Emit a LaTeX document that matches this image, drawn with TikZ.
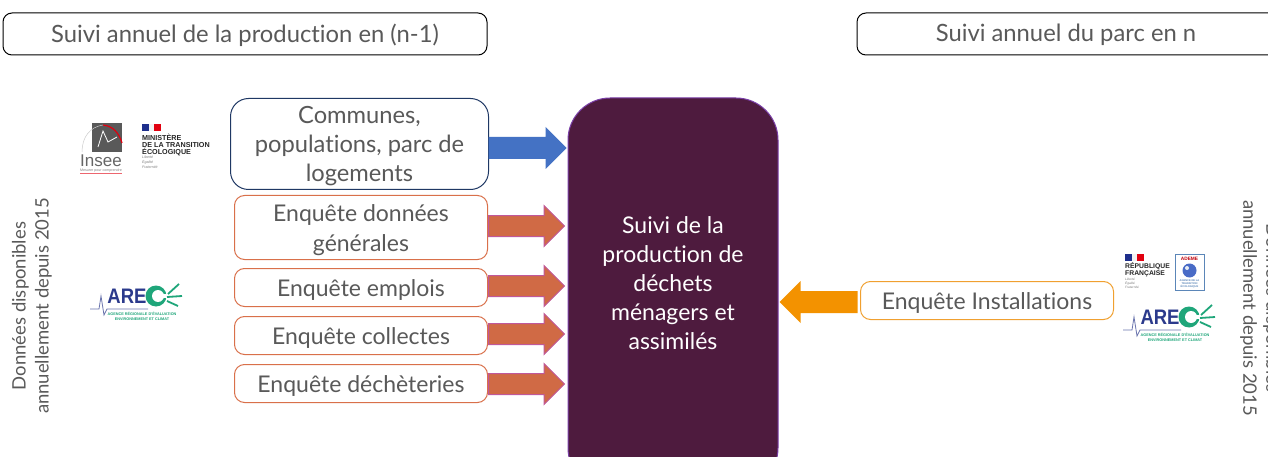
\documentclass[tikz,border=0pt]{standalone}
\usepackage{fontspec}
\setmainfont{Lato}[Ligatures=NoCommon]
\newfontfamily\logofont{Liberation Sans}
\usetikzlibrary{shapes.arrows}
\definecolor{txt}{HTML}{595959}
\definecolor{navy}{HTML}{1F3864}
\definecolor{orangeb}{HTML}{D9704A}
\definecolor{orangef}{HTML}{D06A45}
\definecolor{pinkb}{HTML}{C0589A}
\definecolor{blueb}{HTML}{4472C4}
\definecolor{ambre}{HTML}{F0A030}
\definecolor{ambref}{HTML}{F39200}
\definecolor{prune}{HTML}{4E1B3E}
\definecolor{violetb}{HTML}{7A3FA8}
\definecolor{arecblue}{HTML}{2B3A8C}
\definecolor{arecgreen}{HTML}{1FA67A}
\definecolor{frblue}{HTML}{1E2F8C}
\definecolor{frred}{HTML}{E1000F}
\definecolor{ademe}{HTML}{5B86B8}
\newcommand{\topstrut}{\rule{0pt}{22pt}}
\tikzset{
  x=1pt,y=-1pt,
  header/.style={draw=black,line width=1pt,rounded corners=9pt,fill=white,text=txt,font=\fontsize{23.8}{27}\selectfont,inner sep=0pt,execute at begin node={\rule[-6pt]{0pt}{30pt}}},
  infobox/.style={draw=orangeb,line width=1pt,rounded corners=10pt,fill=white,text=txt,align=center,font=\fontsize{23}{29.5}\selectfont,inner sep=0pt,anchor=north west,execute at begin node={\rule[-6pt]{0pt}{29pt}}},
  tallbox/.style={draw=orangeb,line width=1pt,rounded corners=10pt,fill=white,text=txt,align=center,font=\fontsize{23}{29.5}\selectfont,inner sep=0pt,anchor=north west},
  blockarrow/.style={single arrow,single arrow head indent=0pt,single arrow head extend=10pt,inner xsep=0pt,inner ysep=10pt,anchor=west,line width=1pt,text height=0pt,text depth=0pt,text width=0pt,shape border rotate=0},
  redarrow/.style={blockarrow,draw=pinkb,fill=orangef,minimum height=76pt},
  vert/.style={text=txt,align=center,font=\fontsize{18.5}{23}\selectfont,inner sep=0pt},
}
\newcommand{\areclogo}[2]{%
  \begin{scope}[shift={(#1,#2)}]
    \node[inner sep=0pt,text=arecblue,xscale=.88,font=\logofont\bfseries\fontsize{21}{21}\selectfont] (arectxt#1) at (-8,0) {ARE};
    \fill[arecgreen] (21,0) circle (10.5);
    \fill[white] (23,0) circle (6);
    \fill[white] (26,-2) rectangle (33,2);
    \draw[arecgreen,line width=1.8pt] (33,-2) -- (44,-12) (32,1) -- (47,0) (32,5) -- (43,10);
    \draw[arecblue!70,line width=.8pt] (-45,13) -- (-36,13) -- (-34,0) -- (-31,19) -- (-28,13) -- (13,13);
    \node[inner sep=0pt,text=arecgreen,font=\logofont\bfseries\fontsize{3.8}{5}\selectfont,align=center] (arecsub#1) at (7,20) {AGENCE RÉGIONALE D’ÉVALUATION\\ENVIRONNEMENT ET CLIMAT};
  \end{scope}}
\newcommand{\flagmark}[2]{%
  \fill[frblue] (#1,#2) rectangle ++(7,7);
  \fill[white!95!black] (#1+7,#2) rectangle ++(5,7);
  \fill[frred] (#1+12,#2) rectangle ++(7,7);}
\begin{document}
\begin{tikzpicture}
\useasboundingbox (0,0) rectangle (1268,457);
\clip (0,0) rectangle (1268,457);
\fill[white] (0,0) rectangle (1268,457);

% headers
\node[header,minimum width=484pt,minimum height=42pt] (h1) at (245,34) {Suivi annuel de la production en (n-1)};
\draw[black,line width=1pt,rounded corners=9pt,fill=white] (1290,13) -- (857,13) -- (857,55) -- (1290,55);
\node[text=txt,font=\fontsize{23.8}{27}\selectfont,inner sep=0pt] (h2) at (1066,35) {Suivi annuel du parc en n};

% central block
\draw[draw=violetb,fill=prune,line width=1pt,rounded corners=42pt] (568,98) rectangle (778,490);
\node[text=white,align=center,font=\fontsize{23}{29}\selectfont,inner sep=0pt] (centre) at (673,283) {Suivi de la\\production de\\déchets\\ménagers et\\assimilés};

% boxes
\node[tallbox,draw=navy,rounded corners=18pt,minimum width=258pt,minimum height=91pt,font=\fontsize{23.7}{29}\selectfont] (b0) at (230,98) {\topstrut Communes,\\populations, parc de\\logements};
\node[tallbox,minimum width=253pt,minimum height=64pt] (b1) at (234,195) {\topstrut Enquête données\\générales};
\node[infobox,minimum width=253pt,minimum height=38pt] (b2) at (234,268) {Enquête emplois};
\node[infobox,minimum width=253pt,minimum height=38pt] (b3) at (234,316) {Enquête collectes};
\node[infobox,minimum width=253pt,minimum height=38pt] (b4) at (234,364) {Enquête déchèteries};
\node[infobox,draw=ambre,minimum width=253pt,minimum height=38pt] (b5) at (860,281) {Enquête Installations};

% arrows
\node[blockarrow,fill=blueb,draw=none,minimum height=78pt,inner ysep=10.5pt] (a0) at (488,148) {};
\node[redarrow] (a1) at (488,226) {};
\node[redarrow] (a2) at (488,286) {};
\node[redarrow] (a3) at (488,334) {};
\node[redarrow] (a4) at (488,384) {};
\node[blockarrow,fill=ambref,draw=none,minimum height=78pt,shape border rotate=180,anchor=east,inner ysep=10.5pt] (a5) at (858,302) {};

% side texts
\node[vert,rotate=90] (v1) at (32,306) {Données disponibles\\annuellement depuis 2015};
\node[vert,rotate=-90] (v2) at (1260,308) {Données disponibles\\annuellement depuis 2015};

% Insee logo
\fill[gray!70!black] (92,123) rectangle (122,152);
\draw[white,line width=.8pt] (98,147) -- (103,131) -- (108,142) -- (117,137);
\draw[frred,line width=1.2pt] (103,125) .. controls (113,126) and (119,133) .. (122,143);
\draw[gray!40,line width=.5pt] (82,152) .. controls (82,137) and (90,127) .. (103,125);
\node[inner sep=0pt,text=gray!80!black,font=\logofont\fontsize{17}{17}\selectfont] (ins) at (101,161) {Insee};
\node[inner sep=0pt,text=gray,font=\logofont\fontsize{3.6}{4}\selectfont] (insb) at (101,170.5) {Mesurer pour comprendre};
\draw[frred!60,line width=.5pt] (80,173) -- (122,173);

% Ministere
\flagmark{142}{124}
\node[inner sep=0pt,anchor=north west,align=left,text=black!85,font=\logofont\bfseries\fontsize{7.2}{7.2}\selectfont] (min) at (142,134) {MINISTÈRE\\DE LA TRANSITION\\ÉCOLOGIQUE};
\node[inner sep=0pt,anchor=north west,align=left,text=gray,font=\logofont\itshape\fontsize{3.6}{5}\selectfont] (minb) at (142,156) {Liberté\\Égalité\\Fraternité};

% AREC logos
\areclogo{135}{296}
\areclogo{1168}{317}

% RF + ADEME
\flagmark{1125}{254}
\node[inner sep=0pt,anchor=north west,align=left,text=black!85,font=\logofont\bfseries\fontsize{6.8}{7.2}\selectfont] (rf) at (1125,262.5) {RÉPUBLIQUE\\FRANÇAISE};
\node[inner sep=0pt,anchor=north west,align=left,text=gray,font=\logofont\itshape\fontsize{3.2}{4}\selectfont] (rfb) at (1125,278) {Liberté\\Égalité\\Fraternité};
\draw[ademe,line width=1pt,fill=white] (1175,254) rectangle (1204,290);
\node[inner sep=0pt,text=frred!85!black,font=\logofont\bfseries\fontsize{4.8}{5}\selectfont] (ad) at (1189.5,259) {ADEME};
\fill[ademe!80!blue] (1189.5,270.5) circle (7);
\fill[white!85!ademe] (1187,268) circle (2);
\node[inner sep=0pt,align=center,text=ademe,font=\logofont\bfseries\fontsize{2.6}{3}\selectfont] (adb) at (1189.5,284) {AGENCE DE LA\\TRANSITION\\ÉCOLOGIQUE};
\end{tikzpicture}
\end{document}
